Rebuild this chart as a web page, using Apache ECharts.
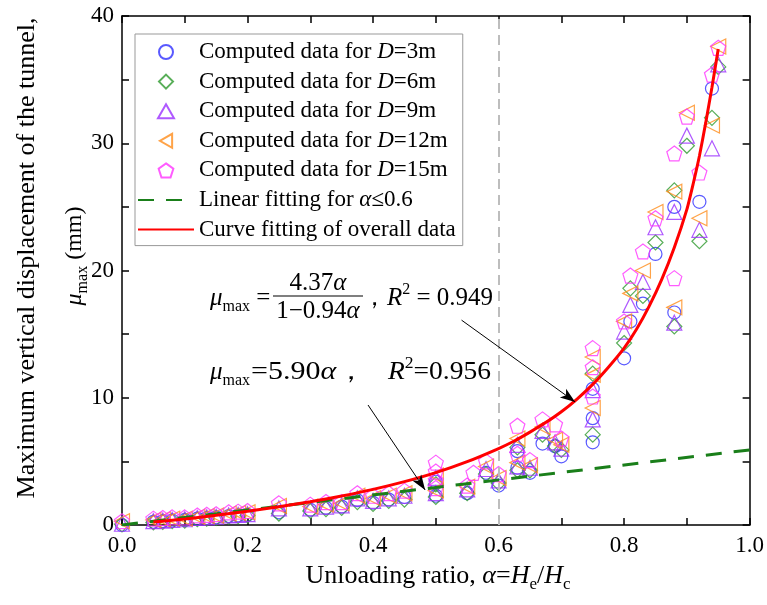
<!DOCTYPE html>
<html><head><meta charset="utf-8">
<script src="https://cdn.jsdelivr.net/npm/echarts@6/dist/echarts.min.js"></script>
<style>html,body{margin:0;padding:0;background:#fff}#c{width:767px;height:605px}</style>
</head><body><div id="c"></div>
<script>
// ---- tick labels ----
const xTickLabels = ['0.0','0.2','0.4','0.6','0.8','1.0'];
const yTickLabels = ['0','10','20','30','40'];

// ---- computed data (alpha, mu_max in mm) ----
const d3Alpha = [0,0.05,0.065,0.08,0.1,0.12,0.135,0.15,0.17,0.185,0.2,
  0.25,0.3,0.325,0.35,0.375,0.4,0.425,0.45,
  0.5,0.5,0.55,0.58,0.6,0.63,0.63,0.65,0.67,0.69,0.7,
  0.75,0.75,0.75,0.8,0.81,0.83,0.85,0.88,0.88,0.92,0.94];
const d3Value = [0,0.25,0.3,0.35,0.4,0.5,0.55,0.6,0.7,0.75,0.8,
  1.0,1.2,1.35,1.45,1.95,1.75,2.0,2.2,
  2.3,3.4,2.5,4.1,3.1,4.5,5.8,4.1,6.4,6.2,5.4,
  6.5,8.4,10.7,13.1,16.0,17.4,21.3,16.7,25.0,25.4,34.3];

const d6Alpha = [0,0.05,0.065,0.08,0.1,0.12,0.135,0.15,0.17,0.185,0.2,
  0.25,0.3,0.325,0.35,0.375,0.4,0.425,0.45,
  0.5,0.5,0.55,0.58,0.6,0.63,0.63,0.65,0.67,0.69,0.7,
  0.75,0.75,0.8,0.81,0.83,0.85,0.88,0.88,0.9,0.92,0.94,0.95];
const d6Value = [0.05,0.2,0.25,0.3,0.35,0.45,0.5,0.55,0.65,0.7,0.75,
  0.9,1.1,1.25,1.35,1.8,1.65,1.9,2.0,
  2.2,3.2,2.5,4.0,3.3,4.3,6.1,4.3,7.1,6.2,5.9,
  7.1,11.9,14.3,18.6,18.0,22.2,15.6,26.3,29.8,22.3,32.0,36.0];

const d9Alpha = [0,0.05,0.065,0.08,0.1,0.12,0.135,0.15,0.17,0.185,0.2,
  0.25,0.3,0.325,0.35,0.375,0.4,0.425,0.45,
  0.5,0.5,0.55,0.58,0.6,0.63,0.63,0.65,0.67,0.69,0.7,
  0.75,0.75,0.8,0.81,0.83,0.85,0.88,0.88,0.9,0.92,0.94,0.95];
const d9Value = [0.1,0.3,0.35,0.4,0.45,0.55,0.6,0.65,0.75,0.8,0.85,
  1.3,1.3,1.45,1.55,2.1,1.9,2.1,2.3,
  2.5,3.7,2.8,4.4,3.5,4.6,6.3,4.5,7.4,6.5,6.0,
  8.3,10.6,15.2,17.3,19.1,23.4,15.9,24.6,30.6,23.2,29.6,36.2];

const d12Alpha = [0,0.05,0.065,0.08,0.1,0.12,0.135,0.15,0.17,0.185,0.2,
  0.25,0.3,0.325,0.35,0.375,0.4,0.425,0.45,
  0.5,0.5,0.55,0.58,0.6,0.63,0.63,0.65,0.67,0.69,0.7,
  0.75,0.75,0.75,0.8,0.81,0.83,0.85,0.88,0.88,0.9,0.92,0.94,0.95];
const d12Value = [0.3,0.4,0.45,0.5,0.5,0.65,0.7,0.75,0.9,0.95,1.0,
  1.5,1.45,1.6,1.7,2.3,2.1,2.3,2.5,
  2.7,3.9,3.0,4.6,3.7,4.9,6.8,4.7,7.7,6.7,6.3,
  9.2,11.8,13.2,16.0,18.2,20.0,24.6,17.1,26.2,32.4,24.1,31.4,37.6];

const d15Alpha = [0,0.05,0.065,0.08,0.1,0.12,0.135,0.15,0.17,0.185,0.2,
  0.25,0.3,0.325,0.35,0.375,0.4,0.425,0.45,
  0.5,0.5,0.5,0.5,0.55,0.56,0.58,0.6,0.63,0.63,0.65,0.67,0.69,0.7,
  0.75,0.75,0.75,0.8,0.81,0.83,0.85,0.88,0.88,0.9,0.92,0.94,0.95];
const d15Value = [0.3,0.5,0.55,0.6,0.6,0.75,0.8,0.85,1.0,1.05,1.1,
  1.7,1.6,1.8,1.8,2.5,2.3,2.5,2.7,
  2.9,3.5,4.2,4.9,3.1,4.1,5.0,4.0,5.6,7.8,5.1,8.3,7.9,6.8,
  10.1,12.4,13.9,16.0,19.6,21.5,24.1,19.4,29.2,32.1,27.7,35.4,37.5];

// ---- fitting lines ----
const linAlpha = [0, 1.0];
const linValue = [0, 5.9];
const curveAlpha = [0.05,0.1,0.15,0.2,0.25,0.3,0.35,0.4,0.45,0.5,0.55,0.6,0.625,0.65,0.675,0.7,0.725,0.75,0.775,0.8,0.82,0.84,0.86,0.88,0.9,0.91,0.92,0.93,0.94,0.95];
const curveValue = [0.23,0.48,0.76,1.08,1.43,1.83,2.28,2.80,3.41,4.12,4.98,6.01,6.6,7.3,8.05,8.9,9.9,11.05,12.4,13.9,15.4,17.2,19.3,21.8,24.8,26.8,29.0,31.6,34.4,37.4];

const FONT = 'Liberation Serif';
const pair = (a, v) => a.map((x, i) => [x, v[i]]);

const legendLabels = {
  'D3': 'Computed data for {i|D}=3m',
  'D6': 'Computed data for {i|D}=6m',
  'D9': 'Computed data for {i|D}=9m',
  'D12': 'Computed data for {i|D}=12m',
  'D15': 'Computed data for {i|D}=15m',
  'LIN': 'Linear fitting for {i|α}≤0.6',
  'CUR': 'Curve fitting of overall data'
};

const SYM = {
  circle: 'circle',
  diamond: 'path://M0,-10 L10,0 L0,10 L-10,0 Z',
  up: 'path://M0,-8 L8,6 L-8,6 Z',
  left: 'path://M-8,0 L6,-8 L6,8 Z',
  pentagon: 'path://M0,-10 L9.51,-3.09 L5.88,8.09 L-5.88,8.09 L-9.51,-3.09 Z'
};

function scatter(name, a, v, symbol, color, size) {
  return {
    type: 'scatter', name, data: pair(a, v), symbol, symbolSize: size,
    itemStyle: { color: 'rgba(255,255,255,0)', borderColor: color, borderWidth: 1.2 },
    emphasis: { disabled: true }, z: 2
  };
}

function rich(size) {
  const s = Math.round(size * 0.65);
  return {
    n: { fontFamily: FONT, fontSize: size, lineHeight: size + 8, color: '#000' },
    i: { fontFamily: FONT, fontStyle: 'italic', fontSize: size, lineHeight: size + 8, color: '#000' },
    sub: { fontFamily: FONT, fontSize: s, lineHeight: s + 1, verticalAlign: 'bottom', color: '#000' },
    sup: { fontFamily: FONT, fontSize: s, lineHeight: s + 1, verticalAlign: 'top', color: '#000' }
  };
}

const chart = echarts.init(document.getElementById('c'), null, { renderer: 'canvas' });

const axisCommon = {
  type: 'value',
  axisLine: { show: true, onZero: false, lineStyle: { color: '#000', width: 1.5 } },
  axisTick: { show: true, inside: true, length: 7, lineStyle: { color: '#000', width: 1.5 } },
  splitLine: { show: false }
};

const hiddenSymbol = { color: 'rgba(0,0,0,0)', borderColor: 'rgba(0,0,0,0)', borderWidth: 0 };

chart.setOption({
  animation: false,
  backgroundColor: '#fff',
  grid: { left: 122, right: 15, top: 16, bottom: 80 },
  xAxis: [
    Object.assign({}, axisCommon, { min: 0, max: 1, interval: 0.1, position: 'bottom',
      axisLabel: { margin: 9, color: '#000', fontFamily: FONT, fontSize: 23,
        formatter: v => { const s = v.toFixed(1); return xTickLabels.includes(s) ? s : ''; } } }),
    Object.assign({}, axisCommon, { min: 0, max: 1, interval: 0.1, position: 'top', axisLabel: { show: false } })
  ],
  yAxis: [
    Object.assign({}, axisCommon, { min: 0, max: 40, interval: 5, position: 'left',
      axisLabel: { margin: 8, color: '#000', fontFamily: FONT, fontSize: 23,
        formatter: v => { const s = String(Math.round(v)); return yTickLabels.includes(s) ? s : ''; } } }),
    Object.assign({}, axisCommon, { min: 0, max: 40, interval: 5, position: 'right', axisLabel: { show: false } })
  ],
  legend: {
    orient: 'vertical', left: 135, top: 34,
    itemWidth: 56, itemHeight: 14, itemGap: 3.6,
    padding: [5, 7, 3, 2],
    borderColor: '#999', borderWidth: 1, backgroundColor: '#fff',
    data: ['D3','D6','D9','D12','D15',
      { name: 'LIN', itemStyle: hiddenSymbol },
      { name: 'CUR', itemStyle: hiddenSymbol }],
    formatter: name => legendLabels[name],
    textStyle: { fontFamily: FONT, fontSize: 23, color: '#000', lineHeight: 26,
      rich: { i: { fontFamily: FONT, fontStyle: 'italic', fontSize: 23, lineHeight: 26, color: '#000' } } }
  },
  series: [
    scatter('D3', d3Alpha, d3Value, SYM.circle, '#2f2fff', 13),
    scatter('D6', d6Alpha, d6Value, SYM.diamond, '#2e9a2e', 15),
    scatter('D9', d9Alpha, d9Value, SYM.up, '#9b30ff', 15),
    scatter('D12', d12Alpha, d12Value, SYM.left, '#ff8c1a', 15),
    scatter('D15', d15Alpha, d15Value, SYM.pentagon, '#ff33ff', 15),
    {
      type: 'line', name: 'LIN', data: pair(linAlpha, linValue), symbol: 'none', z: 3,
      lineStyle: { color: '#1a7f1a', width: 3, type: [16, 12] }, itemStyle: hiddenSymbol,
      emphasis: { disabled: true },
      markLine: {
        silent: true, symbol: 'none', label: { show: false },
        lineStyle: { color: '#bdbdbd', width: 2, type: [10, 6] },
        data: [{ xAxis: 0.6 }]
      }
    },
    {
      type: 'line', name: 'CUR', data: pair(curveAlpha, curveValue), symbol: 'none', z: 4,
      smooth: 0.2,
      lineStyle: { color: '#ff0000', width: 3 }, itemStyle: hiddenSymbol,
      emphasis: { disabled: true },
      markLine: {
        silent: true, symbol: ['none', 'arrow'], symbolSize: [8, 15], label: { show: false },
        lineStyle: { color: '#000', width: 1, type: 'solid' },
        data: [
          [{ coord: [0.541, 16.1] }, { coord: [0.722, 9.67] }],
          [{ coord: [0.392, 9.43] }, { coord: [0.483, 2.75] }]
        ]
      }
    }
  ],
  graphic: [
    { type: 'text', x: 27, y: 258, rotation: Math.PI / 2,
      style: { text: 'Maximum vertical displacement of the tunnel,', font: '26px "Liberation Serif"', fill: '#000', align: 'center', verticalAlign: 'middle' } },
    { type: 'text', x: 75, y: 256, rotation: Math.PI / 2,
      style: { text: '{i|μ}{sub|max}{n| (mm)}', rich: rich(24), align: 'center', verticalAlign: 'middle' } },
    { type: 'text', x: 438, y: 576,
      style: { text: '{n|Unloading ratio, }{i|α}{n|=}{i|H}{sub|e}{n|/}{i|H}{sub|c}', rich: rich(26), align: 'center', verticalAlign: 'middle' } },
    // equation 1
    { type: 'text', x: 210, y: 298,
      style: { text: '{i|μ}{sub|max}{n| =}', rich: rich(25), align: 'left', verticalAlign: 'middle' } },
    { type: 'text', x: 318, y: 283,
      style: { text: '{n|4.37}{i|α}', rich: rich(25), align: 'center', verticalAlign: 'middle' } },
    { type: 'line', shape: { x1: 273, y1: 296, x2: 363, y2: 296 }, style: { stroke: '#000', lineWidth: 1.2 } },
    { type: 'text', x: 318, y: 311,
      style: { text: '{n|1−0.94}{i|α}', rich: rich(25), align: 'center', verticalAlign: 'middle' } },
    { type: 'text', x: 362, y: 298,
      style: { text: '{n|，}{i|R}{sup|2}{n| = 0.949}', rich: rich(25), align: 'left', verticalAlign: 'middle' } },
    // equation 2
    { type: 'text', x: 210, y: 372,
      style: { text: '{i|μ}{sub|max}', rich: rich(25), align: 'left', verticalAlign: 'middle' } },
    { type: 'text', x: 251, y: 372, scaleX: 1.2,
      style: { text: '{n|=5.90}{i|α}{n|，}', rich: rich(25), align: 'left', verticalAlign: 'middle' } },
    { type: 'text', x: 388, y: 372, scaleX: 1.1,
      style: { text: '{i|R}{sup|2}{n|=0.956}', rich: rich(25), align: 'left', verticalAlign: 'middle' } }
  ]
});
</script>
</body></html>
